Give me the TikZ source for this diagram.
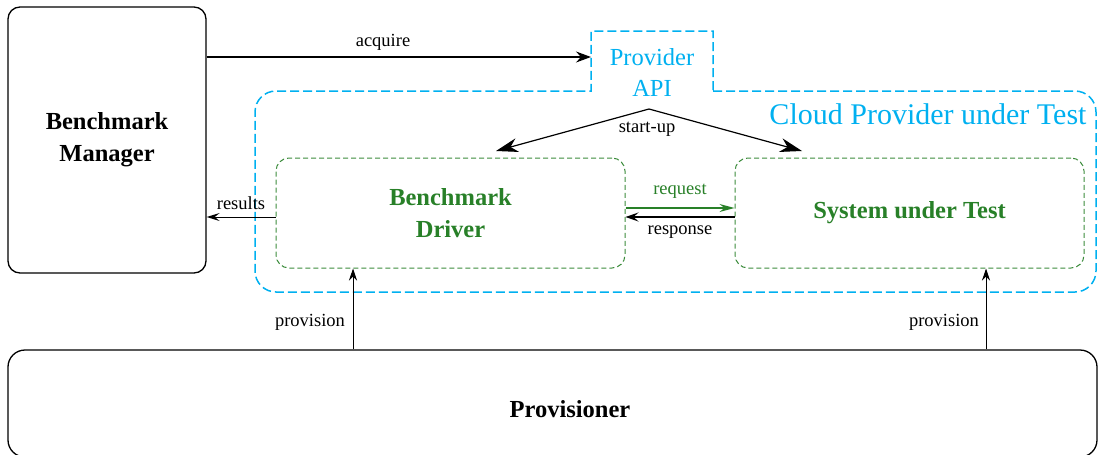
\documentclass[tikz,border=0pt]{standalone}
\usepackage{fontspec}
\setmainfont{Liberation Serif}
\usetikzlibrary{arrows.meta}
\definecolor{cyanc}{RGB}{0,176,240}
\definecolor{greenc}{RGB}{40,128,40}
\definecolor{greenl}{RGB}{60,140,60}
\begin{document}
\begin{tikzpicture}[x=1pt,y=1pt,
  solidbox/.style={draw=black, line width=1.3pt, rounded corners=12pt, inner sep=0pt, align=center,
    font=\fontsize{24.5}{32}\selectfont\bfseries},
  gbox/.style={draw=greenl, line width=1pt, dash pattern=on 5pt off 3pt, rounded corners=13pt,
    inner sep=0pt, align=center, text=greenc, font=\fontsize{24.5}{32}\selectfont\bfseries},
  cloudline/.style={draw=cyanc, line width=1.5pt, dash pattern=on 9pt off 4pt},
  lbl/.style={font=\fontsize{18.5}{22}\selectfont, inner sep=1pt},
  conn/.style={draw=black, line width=1.2pt},
  tipA/.style={-{Stealth[length=15pt,width=11pt,inset=5pt]}},
  tipB/.style={{Stealth[length=22pt,width=14pt,inset=7pt]}-{Stealth[length=22pt,width=14pt,inset=7pt]}},
  tipC/.style={-{Stealth[length=12pt,width=8pt,inset=4pt]}},
]
\useasboundingbox (0,0) rectangle (1098,-455);
% cloud outline
\draw[cloudline] (713,-91) -- (1075,-91) arc[start angle=90,end angle=0,radius=21]
  -- (1096,-271) arc[start angle=0,end angle=-90,radius=21]
  -- (276,-292) arc[start angle=-90,end angle=-180,radius=21]
  -- (255,-112) arc[start angle=180,end angle=90,radius=21]
  -- (591,-91) -- (591,-31) -- (713,-31) -- cycle;
\node[text=cyanc, font=\fontsize{30}{34}\selectfont, anchor=base, inner sep=0pt] (cloudlbl) at (928,-124) {Cloud Provider under Test};
\node[text=cyanc, font=\fontsize{24.5}{31}\selectfont, align=center, inner sep=0pt] (api) at (652,-72) {Provider\\API};

% boxes
\node[solidbox, minimum width=198pt, minimum height=266pt] (mgr) at (107,-140) {Benchmark\\Manager};
\node[gbox, minimum width=349pt, minimum height=110pt] (drv) at (450.5,-213) {Benchmark\\Driver};
\node[gbox, minimum width=349pt, minimum height=110pt] (sut) at (909.5,-213) {System under Test};
\node[solidbox, rounded corners=17pt, minimum width=1089pt, minimum height=107pt] (prov) at (552.5,-403.5) {};
\node[font=\fontsize{24.5}{32}\selectfont\bfseries, inner sep=0pt] (provtxt) at (570,-409) {Provisioner};

% acquire
\coordinate (acq) at (591,-57);
\draw[conn, tipA] (mgr.east |- acq) -- (acq);
\node[lbl] (acqlbl) at (383,-42) {acquire};

% start-up
\coordinate (apex) at (649,-109);
\coordinate (su1) at (496,-151);
\coordinate (su2) at (802,-151);
\draw[conn, tipB] (su1) -- (apex) -- (su2);
\node[lbl] (sulbl) at (647,-129) {start-up};

% request / response
\draw[draw=greenc, line width=1.2pt, -{Stealth[length=15pt,width=8pt,inset=5pt]}] ([yshift=5pt]drv.east) -- ([yshift=5pt]sut.west);
\node[lbl, text=greenc] (reqlbl) at (680,-191) {request};
\draw[conn, -{Stealth[length=13pt,width=9pt,inset=5pt]}] ([yshift=-4pt]sut.west) -- ([yshift=-4pt]drv.east);
\node[lbl] (resplbl) at (680,-232) {response};

% results
\draw[conn, line width=1pt, -{Stealth[length=13pt,width=8pt,inset=5pt]}] ([yshift=-4pt]drv.west) -- ([yshift=-4pt]drv.west -| mgr.east);
\node[lbl] (reslbl) at (241,-203) {results};

% provision
\coordinate (pa) at (353,-300);
\coordinate (pb) at (986,-300);
\draw[conn, line width=0.9pt, tipC] (prov.north -| pa) -- (drv.south -| pa);
\draw[conn, line width=0.9pt, tipC] (prov.north -| pb) -- (sut.south -| pb);
\node[lbl] (pl1) at (310,-322) {provision};
\node[lbl] (pl2) at (944,-322) {provision};
\end{tikzpicture}
\end{document}
